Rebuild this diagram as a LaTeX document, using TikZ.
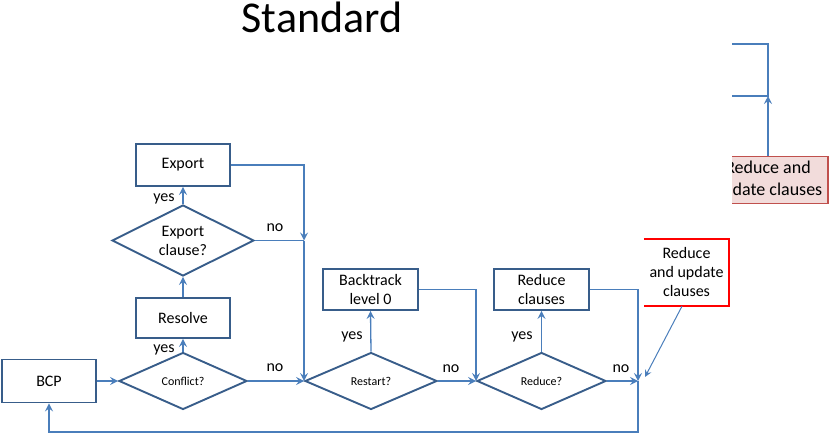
\documentclass[tikz,border=0pt]{standalone}
\usepackage{fontspec}
\setmainfont{Carlito}
\usetikzlibrary{shapes.geometric,arrows.meta}
\definecolor{boxblue}{HTML}{385D8A}
\definecolor{lineblue}{HTML}{4A7EBB}
\definecolor{notered}{HTML}{FF0000}
\definecolor{pinkfill}{HTML}{F2DCDB}
\definecolor{pinkdraw}{HTML}{C0504D}
\begin{document}
\begin{tikzpicture}[x=1pt,y=-1pt,
  procbox/.style={draw=boxblue, line width=1.9pt, fill=white, inner sep=0pt, align=center,
    font=\fontsize{16}{19}\selectfont},
  decision/.style={diamond, aspect=2, draw=boxblue, line width=1.9pt, fill=white, inner sep=0pt, align=center},
  smalltxt/.style={font=\fontsize{12}{14}\selectfont},
  bigtxt/.style={font=\fontsize{16}{19}\selectfont},
  plainline/.style={draw=lineblue, line width=1.3pt},
  conn/.style={plainline, -{Stealth[length=8pt,width=8pt,inset=3pt]}},
  lbl/.style={font=\fontsize{16}{19}\selectfont, inner sep=0pt}
]
\useasboundingbox (0,0) rectangle (830,433);

% title
\node[anchor=base, inner sep=0pt, font=\fontsize{44}{50}\selectfont] (title) at (322,33) {Standard};

% nodes
\node[procbox, minimum width=94pt, minimum height=43pt] (bcp) at (49,381) {BCP};
\node[decision, smalltxt, minimum width=128pt, minimum height=57pt] (conflict) at (183,381) {Conflict?};
\node[procbox, minimum width=94pt, minimum height=40pt] (resolve) at (183,318) {Resolve};
\node[decision, bigtxt, minimum width=142pt, minimum height=71pt] (expq) at (183,240.5) {Export\\clause?};
\node[procbox, minimum width=94pt, minimum height=42pt] (export) at (183,165) {Export};
\node[decision, smalltxt, minimum width=132pt, minimum height=57pt] (restart) at (371,381) {Restart?};
\node[procbox, minimum width=95pt, minimum height=41pt] (backtrack) at (370.5,289.5) {Backtrack\\level 0};
\node[decision, smalltxt, minimum width=129pt, minimum height=57pt] (reduceq) at (541.5,381) {Reduce?};
\node[procbox, minimum width=95pt, minimum height=41pt] (reducecl) at (541.5,289.5) {Reduce\\clauses};

% red note (no left edge)
\node[bigtxt, align=center, minimum width=85pt, minimum height=67pt, inner sep=0pt] (rednote) at (686.5,272.5) {Reduce\\and update\\clauses};
\draw[notered, line width=2.4pt] (rednote.north west) -- (rednote.north east) -- (rednote.south east) -- (rednote.south west);

% junction coordinates
\coordinate (j1) at (restart.west |- expq.east);
\coordinate (j2) at (638,381);
\coordinate (j3) at (638,432);
\coordinate (jn) at (645,377);

% connectors
\draw[conn] (bcp.east) -- (conflict.west);
\draw[conn] (conflict.north) -- (resolve.south);
\draw[conn] (resolve.north) -- (expq.south);
\draw[conn] (expq.north) -- (export.south);
\draw[conn] (export.east) -| (j1);
\draw[plainline] (expq.east) -- (j1);
\draw[conn] (j1) -- (restart.west);
\draw[conn] (conflict.east) -- (restart.west);
\draw[conn] (restart.north) -- (backtrack.south);
\draw[conn] (backtrack.east) -| (reduceq.west);
\draw[conn] (restart.east) -- (reduceq.west);
\draw[conn] (reduceq.north) -- (reducecl.south);
\draw[conn] (reducecl.east) -| (j2);
\draw[conn] (reduceq.east) -- (j2);
\draw[conn] (j2) -- (j3) -| (bcp.south);
\draw[plainline, line width=1pt, -{Stealth[length=7pt,width=7pt,inset=2.5pt]}] (rednote.south -| 682,0) -- (jn);

% labels
\node[lbl] (l1) at (164,350) {yes};
\node[lbl] (l2) at (275,368) {no};
\node[lbl] (l3) at (164,199) {yes};
\node[lbl] (l4) at (275,228) {no};
\node[lbl] (l5) at (352,337) {yes};
\node[lbl] (l6) at (451,369) {no};
\node[lbl] (l7) at (522,337) {yes};
\node[lbl] (l8) at (621,369) {no};

% clipped top-right fragment
\begin{scope}
\clip (732,0) rectangle (830,433);
\node[draw=pinkdraw, fill=pinkfill, line width=1.9pt, inner sep=0pt, align=center,
  font=\fontsize{18}{22}\selectfont, minimum width=120pt, minimum height=47pt] (pink) at (768,180) {Reduce and\\update clauses};
\coordinate (tr1) at (732,44);
\coordinate (tr2) at (768,44);
\coordinate (tr3) at (768,96);
\coordinate (tr4) at (732,96);
\draw[plainline] (tr1) -- (tr2) -- (tr3) -- (tr4);
\draw[conn] (pink.north) -- (tr3);
\end{scope}
\end{tikzpicture}
\end{document}
